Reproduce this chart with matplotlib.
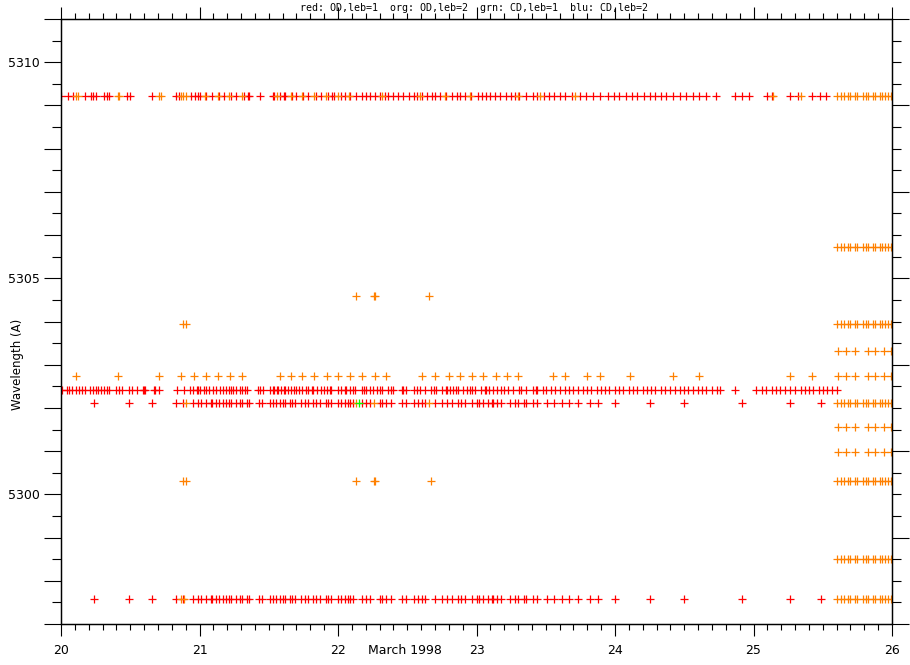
import numpy as np
import matplotlib.pyplot as plt
from matplotlib.ticker import MultipleLocator, FixedLocator, FuncFormatter

plt.rcParams["font.family"] = ["DejaVu Sans"]

# line wavelengths (A)
wl_5309 = 5309.21
wl_5306 = 5305.72
wl_5305 = 5304.58
wl_5304 = 5303.94
wl_5303 = 5303.31
wl_5302c = 5302.73
wl_5302b = 5302.41
wl_5302a = 5302.11
wl_5301b = 5301.55
wl_5301a = 5300.97
wl_5300 = 5300.30
wl_5298 = 5298.50
wl_5297 = 5297.59

# times (day of March 1998)
t_red_5309 = [20.00, 20.05, 20.09, 20.17, 20.22, 20.23, 20.25, 20.31, 20.33, 20.35, 20.48, 20.50,
              20.66, 20.83, 20.85, 20.94, 20.97, 20.99, 21.00, 21.05, 21.09, 21.14, 21.18, 21.23,
              21.26, 21.32, 21.35, 21.36, 21.44, 21.53, 21.54, 21.58, 21.61, 21.62, 21.67, 21.70,
              21.75, 21.78, 21.84, 21.88, 21.93, 21.96, 21.97, 22.02, 22.05, 22.09, 22.13, 22.17,
              22.20, 22.23, 22.27, 22.30, 22.34, 22.36, 22.40, 22.43, 22.47, 22.51, 22.55, 22.57,
              22.61, 22.64, 22.68, 22.70, 22.74, 22.78, 22.82, 22.86, 22.88, 22.92, 22.96, 23.01,
              23.04, 23.07, 23.10, 23.13, 23.17, 23.21, 23.25, 23.28, 23.31, 23.36, 23.41, 23.44,
              23.49, 23.52, 23.56, 23.60, 23.64, 23.69, 23.75, 23.79, 23.84, 23.89, 23.95, 23.99,
              24.03, 24.08, 24.12, 24.16, 24.21, 24.25, 24.29, 24.33, 24.37, 24.42, 24.47, 24.51,
              24.56, 24.61, 24.66, 24.73, 24.87, 24.92, 24.97, 25.10, 25.13, 25.26, 25.32, 25.42,
              25.48, 25.52]

t_org_5309 = [20.11, 20.12, 20.41, 20.42, 20.71, 20.72, 20.87, 20.88, 20.90, 21.04, 21.13, 21.21,
              21.31, 21.56, 21.66, 21.74, 21.83, 21.91, 22.00, 22.08, 22.32, 22.59, 22.77, 22.95,
              23.30, 23.46, 23.71, 25.14, 25.34]

t_red_5302b = [20.00, 20.01, 20.04, 20.06, 20.08, 20.11, 20.13, 20.15, 20.17, 20.21, 20.23, 20.25,
               20.27, 20.29, 20.31, 20.33, 20.35, 20.40, 20.42, 20.44, 20.49, 20.51, 20.55, 20.59,
               20.60, 20.61, 20.67, 20.68, 20.71, 20.84, 20.89, 20.93, 20.95, 20.98, 20.99, 21.00,
               21.03, 21.05, 21.07, 21.10, 21.12, 21.15, 21.17, 21.19, 21.21, 21.23, 21.24, 21.26,
               21.29, 21.31, 21.33, 21.34, 21.42, 21.44, 21.46, 21.51, 21.53, 21.54, 21.56, 21.57,
               21.59, 21.61, 21.62, 21.64, 21.66, 21.68, 21.70, 21.72, 21.74, 21.77, 21.78, 21.81,
               21.82, 21.85, 21.88, 21.90, 21.92, 21.94, 21.95, 22.00, 22.02, 22.05, 22.06, 22.09,
               22.11, 22.12, 22.17, 22.19, 22.20, 22.23, 22.25, 22.28, 22.30, 22.32, 22.36, 22.38,
               22.40, 22.46, 22.47, 22.49, 22.55, 22.57, 22.59, 22.63, 22.67, 22.69, 22.71, 22.75,
               22.78, 22.79, 22.81, 22.83, 22.85, 22.87, 22.90, 22.93, 22.95, 22.97, 22.99, 23.03,
               23.06, 23.07, 23.09, 23.12, 23.15, 23.18, 23.20, 23.23, 23.26, 23.31, 23.32, 23.36,
               23.41, 23.43, 23.44, 23.48, 23.50, 23.54, 23.57, 23.60, 23.64, 23.67, 23.70, 23.73,
               23.77, 23.80, 23.83, 23.87, 23.90, 23.93, 23.96, 24.00, 24.03, 24.06, 24.10, 24.13,
               24.16, 24.20, 24.23, 24.26, 24.29, 24.33, 24.36, 24.40, 24.43, 24.47, 24.50, 24.53,
               24.56, 24.60, 24.63, 24.66, 24.70, 24.74, 24.76, 24.87, 25.02, 25.06, 25.09, 25.13,
               25.16, 25.19, 25.23, 25.26, 25.30, 25.34, 25.37, 25.40, 25.43, 25.47, 25.50, 25.53,
               25.57, 25.60]

# same spectra give the 5302.11 and 5297.59 red points
t_red_cd = [20.24, 20.49, 20.66, 20.83, 20.88, 20.95, 20.99, 21.01, 21.05, 21.08, 21.09, 21.12,
            21.14, 21.17, 21.19, 21.21, 21.23, 21.26, 21.29, 21.31, 21.34, 21.36, 21.43, 21.45,
            21.51, 21.53, 21.55, 21.58, 21.60, 21.62, 21.65, 21.67, 21.69, 21.73, 21.76, 21.78,
            21.82, 21.84, 21.87, 21.91, 21.93, 21.95, 22.00, 22.02, 22.05, 22.07, 22.09, 22.11,
            22.17, 22.20, 22.23, 22.30, 22.32, 22.35, 22.38, 22.46, 22.49, 22.55, 22.58, 22.61,
            22.63, 22.70, 22.75, 22.79, 22.82, 22.87, 22.89, 22.92, 22.97, 23.00, 23.02, 23.05,
            23.08, 23.11, 23.12, 23.15, 23.18, 23.24, 23.28, 23.30, 23.34, 23.36, 23.41, 23.44,
            23.51, 23.56, 23.62, 23.67, 23.73, 23.82, 23.88, 24.00, 24.25, 24.50, 24.92, 25.26,
            25.49]

t_org_5302c = [20.11, 20.41, 20.71, 20.87, 20.96, 21.05, 21.13, 21.22, 21.31, 21.58, 21.66, 21.74,
               21.83, 21.92, 22.00, 22.09, 22.17, 22.27, 22.35, 22.61, 22.70, 22.80, 22.88, 22.97,
               23.05, 23.14, 23.22, 23.30, 23.55, 23.64, 23.80, 23.89, 24.11, 24.42, 24.61, 25.26,
               25.42]

t_org_5305 = [22.13, 22.26, 22.27, 22.66]
t_org_5300 = [20.88, 20.90, 22.13, 22.26, 22.27, 22.67]
t_org_5304 = [20.88, 20.90]
t_org_5302a = [20.90, 22.13, 22.26, 22.66]
t_org_5297 = [20.87, 20.89]
t_grn_5302a = [22.15]

# end of run: dense and sparse orange spectra
t_late = [25.60, 25.63, 25.65, 25.68, 25.70, 25.73, 25.75, 25.79, 25.81, 25.83, 25.86, 25.88,
          25.91, 25.93, 25.95, 25.97, 25.99]
t_late_sparse = [25.61, 25.67, 25.73, 25.83, 25.88, 25.94, 25.99]

RED = "#ff0000"
ORG = "#ff8000"
GRN = "#00ff00"

series = [
    (t_red_5309, wl_5309, RED),
    (t_red_5302b, wl_5302b, RED),
    (t_red_cd, wl_5302a, RED),
    (t_red_cd, wl_5297, RED),
    (t_org_5309, wl_5309, ORG),
    (t_org_5302c, wl_5302c, ORG),
    (t_org_5305, wl_5305, ORG),
    (t_org_5300, wl_5300, ORG),
    (t_org_5304, wl_5304, ORG),
    (t_org_5302a, wl_5302a, ORG),
    (t_org_5297, wl_5297, ORG),
    (t_late, wl_5309, ORG),
    (t_late, wl_5306, ORG),
    (t_late, wl_5304, ORG),
    (t_late, wl_5302a, ORG),
    (t_late, wl_5300, ORG),
    (t_late, wl_5298, ORG),
    (t_late, wl_5297, ORG),
    (t_late_sparse, wl_5303, ORG),
    (t_late_sparse, wl_5302c, ORG),
    (t_late_sparse, wl_5301b, ORG),
    (t_late_sparse, wl_5301a, ORG),
    (t_grn_5302a, wl_5302a, GRN),
]

fig = plt.figure(figsize=(9.1, 6.65), dpi=100)
ax = fig.add_axes([61 / 910, 1 - 624 / 665, 831 / 910, 605 / 665])

for t, wl, c in series:
    t = np.array(t)
    ax.plot(t, np.full(len(t), wl), ls="none", marker="+", ms=5.4, mew=0.9, color=c)

ax.set_xlim(20, 26)
ax.set_ylim(5297, 5311)

ax.xaxis.set_major_locator(MultipleLocator(1))
ax.xaxis.set_minor_locator(MultipleLocator(0.1))
ax.xaxis.set_major_formatter(FuncFormatter(lambda v, p: f"{v:.0f}"))
ax.yaxis.set_major_locator(MultipleLocator(1))
ax.yaxis.set_minor_locator(MultipleLocator(0.5))
ax.yaxis.set_major_formatter(FuncFormatter(lambda v, p: f"{v:.0f}" if round(v) % 5 == 0 else ""))

ax.tick_params(axis="x", which="both", direction="out", top=True, labelsize=9, pad=6, width=0.8)
ax.tick_params(axis="x", which="major", length=8.6)
ax.tick_params(axis="x", which="minor", length=4.3)
ax.tick_params(axis="y", which="both", direction="out", right=False, labelsize=9, pad=3, width=0.8)
ax.tick_params(axis="y", which="major", length=12.5)
ax.tick_params(axis="y", which="minor", length=6.2)

# right axis has long ticks every 2 A
ax2 = ax.twinx()
ax2.set_ylim(5297, 5311)
ax2.yaxis.set_major_locator(FixedLocator(np.arange(5297, 5312, 2)))
ax2.yaxis.set_minor_locator(MultipleLocator(0.5))
ax2.tick_params(axis="y", which="both", direction="out", labelright=False, width=0.8)
ax2.tick_params(axis="y", which="major", length=12.5)
ax2.tick_params(axis="y", which="minor", length=6.2)

for a in (ax, ax2):
    for s in a.spines.values():
        s.set_linewidth(0.9)

fig.text(18 / 910, 1 - 364 / 665, "Wavelength (A)", rotation=90, ha="center", va="center", fontsize=8.5)
fig.text(405 / 910, 1 - 651 / 665, "March 1998", ha="center", va="center", fontsize=9)
fig.text(474 / 910, 1 - 8 / 665, "red: OD,leb=1  org: OD,leb=2  grn: CD,leb=1  blu: CD,leb=2",
         ha="center", va="center", fontsize=7.2, family="DejaVu Sans Mono")

fig.savefig("out.png", dpi=100)
